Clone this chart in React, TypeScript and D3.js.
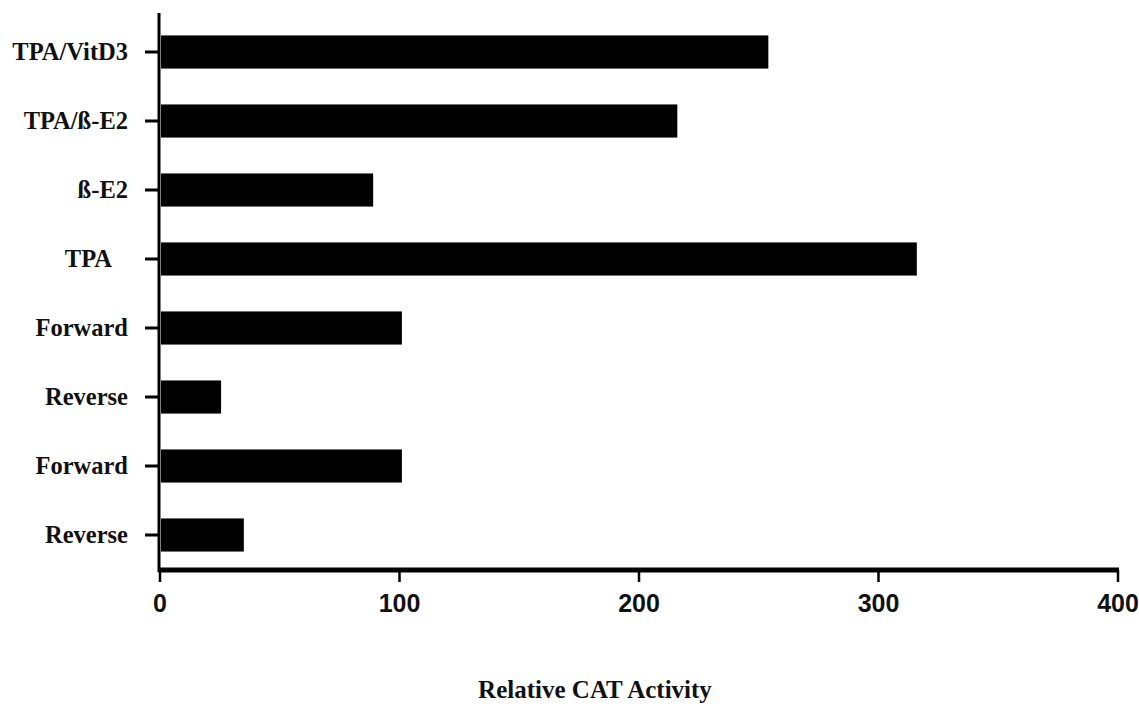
import React from 'react';
import * as d3 from 'd3';

// categories top to bottom, and relative CAT activity
const categories = ['TPA/VitD3', 'TPA/ß-E2', 'ß-E2', 'TPA', 'Forward', 'Reverse', 'Forward', 'Reverse'];
const values = [254, 216, 89, 316, 101, 25.5, 101, 35];
const xTicks = [0, 100, 200, 300, 400];

const W = 1139;
const H = 707;

export default function App() {
  const x = d3.scaleLinear().domain([0, 400]).range([160, 1118]);
  const y = d3
    .scaleBand<number>()
    .domain(d3.range(categories.length))
    .range([17.5, 569.5])
    .paddingInner(0.52)
    .paddingOuter(0.26);

  const axisY = 570;
  const serif = '"Liberation Serif", "Times New Roman", serif';
  const sans = '"Liberation Sans", Arial, sans-serif';

  return (
    <div style={{ position: 'absolute', left: 0, top: 0 }}>
      <svg width={W} height={H} style={{ display: 'block', background: '#fff' }}>
        {/* bars */}
        {values.map((v, i) => (
          <rect
            key={i}
            x={x(0) + 1}
            y={y(i)}
            width={x(v) - x(0) - 1}
            height={y.bandwidth()}
            fill="#000"
          />
        ))}

        {/* y axis */}
        <line x1={x(0) - 1} x2={x(0) - 1} y1={13} y2={axisY + 2} stroke="#000" strokeWidth={3} />
        {categories.map((c, i) => {
          const cy = (y(i) as number) + y.bandwidth() / 2;
          return (
            <g key={i}>
              <line x1={145} x2={158} y1={cy} y2={cy} stroke="#000" strokeWidth={3} />
              <text
                x={i === 3 ? 112 : 128}
                y={cy + 7.5}
                textAnchor="end"
                fontFamily={serif}
                fontWeight="bold"
                fontSize={24.5}
                fill="#111"
              >
                {c}
              </text>
            </g>
          );
        })}

        {/* x axis */}
        <line x1={x(0) - 2} x2={x(400) + 1} y1={axisY} y2={axisY} stroke="#000" strokeWidth={5} />
        {xTicks.map((t) => (
          <g key={t}>
            <line x1={x(t)} x2={x(t)} y1={axisY} y2={axisY + 12} stroke="#000" strokeWidth={2.5} />
            <text
              x={x(t)}
              y={612}
              textAnchor="middle"
              fontFamily={sans}
              fontWeight="bold"
              fontSize={25}
              fill="#111"
            >
              {t}
            </text>
          </g>
        ))}

        <text
          x={595}
          y={698}
          textAnchor="middle"
          fontFamily={serif}
          fontWeight="bold"
          fontSize={25}
          fill="#111"
        >
          Relative CAT Activity
        </text>
      </svg>
    </div>
  );
}
